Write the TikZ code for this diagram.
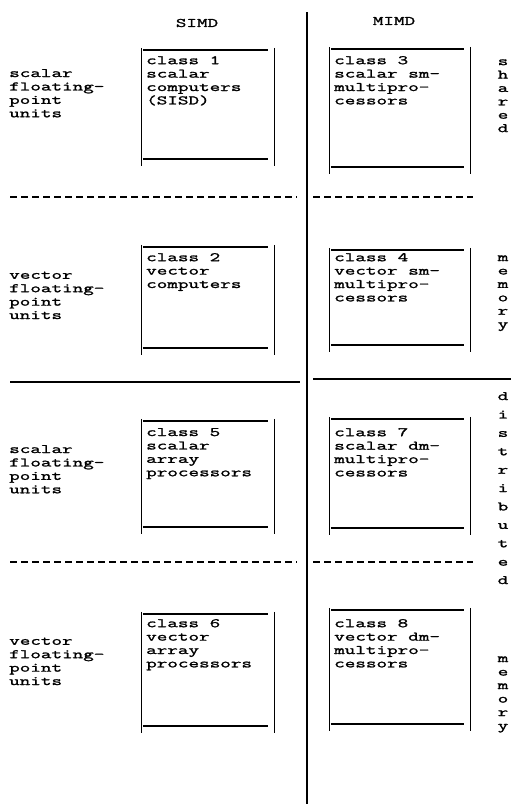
\documentclass[tikz,border=0pt]{standalone}
\usepackage{fontspec}
\newfontfamily\typew[FakeStretch=1.58,FakeBold=1.6]{Latin Modern Mono}
\usetikzlibrary{positioning}
\tikzset{
  tw/.style={font=\typew\fontsize{13}{13.4}\selectfont, inner sep=0pt, align=left, anchor=north west},
  side/.style={font=\typew\fontsize{13}{#1}\selectfont, inner sep=0pt, align=center, anchor=north},
  side/.default=13.4,
  head/.style={font=\typew\fontsize{13}{13.4}\selectfont, inner sep=0pt},
  cbox/.style={rectangle, draw=none, inner sep=0pt, minimum width=#1},
  cbox/.default=132pt,
  rule/.style={line width=1.3pt},
  drule/.style={line width=1.3pt, dash pattern=on 7pt off 4pt},
}
\begin{document}
\begin{tikzpicture}[x=1pt, y=-1pt]
  \useasboundingbox (0,0) rectangle (511,804);
  % headings and middle divider
  \node[head] (simd) at (197,23) {SIMD};
  \node[head] (mimd) at (394,21) {MIMD};
  \draw[rule] (307,12) -- (307,804);

  % row separators
  \draw[drule] (10,197) -- (297,197);
  \draw[drule] (313,197) -- (473,197);
  \draw[rule] (10,382) -- (300,382);
  \draw[rule] (313,379) -- (511,379);
  \draw[drule] (10,562) -- (297,562);
  \draw[drule] (313,562) -- (473,562);

  % class boxes
  \node[cbox, minimum height=118pt] (c1) at (208,107) {};
  \node[cbox=140pt, minimum height=127pt] (c3) at (400,110.5) {};
  \node[cbox, minimum height=110pt] (c2) at (208,300) {};
  \node[cbox=140pt, minimum height=104pt] (c4) at (400,300) {};
  \node[cbox, minimum height=115pt] (c5) at (208,476.5) {};
  \node[cbox=140pt, minimum height=118pt] (c7) at (400,476) {};
  \node[cbox, minimum height=121pt] (c6) at (208,672.5) {};
  \node[cbox=140pt, minimum height=123pt] (c8) at (400,669.5) {};
  \foreach \b in {c1,c2,c3,c4,c5,c6,c7,c8}{
    \draw[line width=1.2pt] (\b.north west) -- (\b.south west);
    \draw[line width=1.2pt] (\b.north east) -- (\b.south east);
    \draw[line width=1.6pt] ([shift={(1,2)}]\b.north west) -- ([shift={(-6,2)}]\b.north east);
    \draw[line width=1.6pt] ([shift={(1,-7)}]\b.south west) -- ([shift={(-6,-7)}]\b.south east);
  }

  % box texts
  \node[tw] (t1) at (146,55.9) {class 1\\scalar\\computers\\(SISD)};
  \node[tw] (t3) at (334,55.9) {class 3\\scalar sm-\\multipro-\\cessors};
  \node[tw] (t2) at (146,252.9) {class 2\\vector\\computers};
  \node[tw] (t4) at (334,252.9) {class 4\\vector sm-\\multipro-\\cessors};
  \node[tw] (t5) at (146,427.9) {class 5\\scalar\\array\\processors};
  \node[tw] (t7) at (334,427.9) {class 7\\scalar dm-\\multipro-\\cessors};
  \node[tw] (t6) at (146,618.9) {class 6\\vector\\array\\processors};
  \node[tw] (t8) at (334,618.9) {class 8\\vector dm-\\multipro-\\cessors};

  % row labels
  \node[tw] (r1) at (9,68.9) {scalar\\floating-\\point\\units};
  \node[tw] (r2) at (9,271.4) {vector\\floating-\\point\\units};
  \node[tw] (r3) at (9,444.9) {scalar\\floating-\\point\\units};
  \node[tw] (r4) at (9,637.4) {vector\\floating-\\point\\units};

  % memory words down the right edge
  \node[side] (shared) at (503,59.2) {s\\h\\a\\r\\e\\d};
  \node[side] (mem1) at (503,255.2) {m\\e\\m\\o\\r\\y};
  \node[side=18.4] (distr) at (503,391.9) {d\\i\\s\\t\\r\\i\\b\\u\\t\\e\\d};
  \node[side=13.5] (mem2) at (503,656.2) {m\\e\\m\\o\\r\\y};
\end{tikzpicture}
\end{document}
